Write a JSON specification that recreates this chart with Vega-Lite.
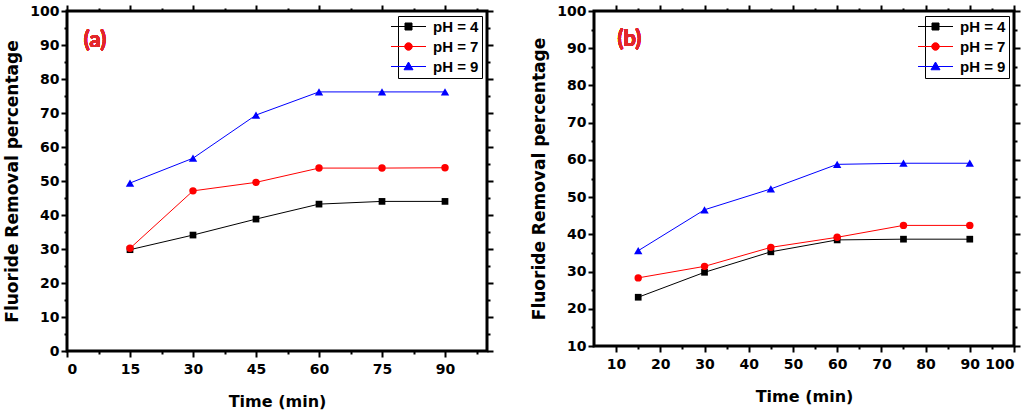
{
  "$schema": "https://vega.github.io/schema/vega-lite/v6.json",
  "background": "white",
  "padding": {"left": 2, "top": 2, "right": 4, "bottom": 2},
  "spacing": 33,
  "resolve": {"scale": {"color": "independent", "stroke": "independent", "shape": "independent"}, "legend": {"color": "independent", "stroke": "independent", "shape": "independent"}},
  "config": {
    "view": {"stroke": "black", "strokeWidth": 3},
    "axis": {"grid": false, "domain": false, "tickColor": "black", "tickWidth": 2, "labelColor": "black", "labelFont": "DejaVu Sans", "labelFontWeight": "bold", "labelFontSize": 14, "labelPadding": 2, "titleFont": "DejaVu Sans", "titleFontWeight": "bold", "titleFontSize": 16, "titleColor": "black"},
    "legend": {"orient": "top-right", "offset": 5, "strokeColor": "black", "strokeWidth": 1, "fillColor": "white", "padding": 3, "labelFont": "Liberation Sans", "labelFontSize": 15, "labelFontWeight": "bold", "labelColor": "black", "symbolSize": 100, "symbolStrokeWidth": 1, "rowPadding": 4, "labelOffset": 17}
  },
  "datasets": {
    "a": [
      {"time": 15, "pH": "pH = 4", "removal": 29.8},
      {"time": 30, "pH": "pH = 4", "removal": 34.1},
      {"time": 45, "pH": "pH = 4", "removal": 38.8},
      {"time": 60, "pH": "pH = 4", "removal": 43.2},
      {"time": 75, "pH": "pH = 4", "removal": 44.0},
      {"time": 90, "pH": "pH = 4", "removal": 44.0},
      {"time": 15, "pH": "pH = 7", "removal": 30.2},
      {"time": 30, "pH": "pH = 7", "removal": 47.1},
      {"time": 45, "pH": "pH = 7", "removal": 49.6},
      {"time": 60, "pH": "pH = 7", "removal": 53.8},
      {"time": 75, "pH": "pH = 7", "removal": 53.8},
      {"time": 90, "pH": "pH = 7", "removal": 53.9},
      {"time": 15, "pH": "pH = 9", "removal": 49.4},
      {"time": 30, "pH": "pH = 9", "removal": 56.7},
      {"time": 45, "pH": "pH = 9", "removal": 69.4},
      {"time": 60, "pH": "pH = 9", "removal": 76.2},
      {"time": 75, "pH": "pH = 9", "removal": 76.2},
      {"time": 90, "pH": "pH = 9", "removal": 76.2}
    ],
    "b": [
      {"time": 15, "pH": "pH = 4", "removal": 23.1},
      {"time": 30, "pH": "pH = 4", "removal": 29.8},
      {"time": 45, "pH": "pH = 4", "removal": 35.3},
      {"time": 60, "pH": "pH = 4", "removal": 38.5},
      {"time": 75, "pH": "pH = 4", "removal": 38.7},
      {"time": 90, "pH": "pH = 4", "removal": 38.7},
      {"time": 15, "pH": "pH = 7", "removal": 28.3},
      {"time": 30, "pH": "pH = 7", "removal": 31.4},
      {"time": 45, "pH": "pH = 7", "removal": 36.5},
      {"time": 60, "pH": "pH = 7", "removal": 39.2},
      {"time": 75, "pH": "pH = 7", "removal": 42.4},
      {"time": 90, "pH": "pH = 7", "removal": 42.4},
      {"time": 15, "pH": "pH = 9", "removal": 35.6},
      {"time": 30, "pH": "pH = 9", "removal": 46.6},
      {"time": 45, "pH": "pH = 9", "removal": 52.2},
      {"time": 60, "pH": "pH = 9", "removal": 58.8},
      {"time": 75, "pH": "pH = 9", "removal": 59.1},
      {"time": 90, "pH": "pH = 9", "removal": 59.1}
    ]
  },
  "hconcat": [
    {
      "width": 420, "height": 340,
      "data": {"name": "a"},
      "layer": [
        {
          "transform": [{"filter": "false"}],
          "mark": {"type": "point", "filled": true, "opacity": 1},
          "encoding": {
            "x": {"field": "time", "type": "quantitative", "scale": {"domain": [0, 100], "nice": false, "zero": false},
              "axis": {"orient": "top", "values": [0, 7.5, 15, 22.5, 30, 37.5, 45, 52.5, 60, 67.5, 75, 82.5, 90, 97.5], "labels": false, "tickSize": {"condition": {"test": "datum.value % 15 === 0", "value": 6}, "value": 3}, "title": null}},
            "y": {"field": "removal", "type": "quantitative", "scale": {"domain": [0, 100], "nice": false, "zero": false},
              "axis": {"orient": "right", "values": [0, 5, 10, 15, 20, 25, 30, 35, 40, 45, 50, 55, 60, 65, 70, 75, 80, 85, 90, 95, 100], "labels": false, "tickSize": {"condition": {"test": "datum.value % 10 === 0", "value": 6}, "value": 3}, "title": null}},
            "color": {"field": "pH", "type": "nominal", "scale": {"domain": ["pH = 4", "pH = 7", "pH = 9"], "range": ["#000000", "#ff0000", "#0000ff"]}, "legend": {"title": null}},
            "stroke": {"field": "pH", "type": "nominal", "scale": {"domain": ["pH = 4", "pH = 7", "pH = 9"], "range": ["#000000", "#ff0000", "#0000ff"]}, "legend": {"title": null}},
            "shape": {"field": "pH", "type": "nominal", "scale": {"domain": ["pH = 4", "pH = 7", "pH = 9"], "range": ["M-3.5,0H3.5M-0.7,-0.7H0.7V0.7H-0.7Z", "M-3.5,0H3.5M0.75,0A0.75,0.75,0,1,1,-0.75,0A0.75,0.75,0,1,1,0.75,0Z", "M-3.5,0H3.5M0,-0.9L0.9,0.65H-0.9Z"]}, "legend": {"title": null}}
          }
        },
        {
          "mark": {"type": "line", "strokeWidth": 1},
          "encoding": {
            "x": {"field": "time", "type": "quantitative",
              "axis": {"orient": "bottom", "values": [0, 7.5, 15, 22.5, 30, 37.5, 45, 52.5, 60, 67.5, 75, 82.5, 90, 97.5], "format": "d", "labelExpr": "datum.value % 15 === 0 ? datum.label : ''", "tickSize": {"condition": {"test": "datum.value % 15 === 0", "value": 6}, "value": 3}, "labelPadding": 5, "title": "Time (min)", "titlePadding": 17}},
            "y": {"field": "removal", "type": "quantitative",
              "axis": {"orient": "left", "values": [0, 5, 10, 15, 20, 25, 30, 35, 40, 45, 50, 55, 60, 65, 70, 75, 80, 85, 90, 95, 100], "labelExpr": "datum.value % 10 === 0 ? datum.label : ''", "tickSize": {"condition": {"test": "datum.value % 10 === 0", "value": 6}, "value": 3}, "title": "Fluoride Removal percentage", "titleFontSize": 17, "titlePadding": 8}},
            "color": {"field": "pH", "type": "nominal"}
          }
        },
        {
          "transform": [{"filter": "datum.pH === 'pH = 4'"}],
          "mark": {"type": "point", "shape": "square", "filled": true, "size": 45, "opacity": 1},
          "encoding": {
            "x": {"field": "time", "type": "quantitative", "axis": null},
            "y": {"field": "removal", "type": "quantitative", "axis": null},
            "color": {"field": "pH", "type": "nominal"}
          }
        },
        {
          "transform": [{"filter": "datum.pH === 'pH = 7'"}],
          "mark": {"type": "point", "shape": "circle", "filled": true, "size": 55, "opacity": 1},
          "encoding": {
            "x": {"field": "time", "type": "quantitative", "axis": null},
            "y": {"field": "removal", "type": "quantitative", "axis": null},
            "color": {"field": "pH", "type": "nominal"}
          }
        },
        {
          "transform": [{"filter": "datum.pH === 'pH = 9'"}],
          "mark": {"type": "point", "shape": "triangle-up", "filled": true, "size": 70, "opacity": 1},
          "encoding": {
            "x": {"field": "time", "type": "quantitative", "axis": null},
            "y": {"field": "removal", "type": "quantitative", "axis": null},
            "color": {"field": "pH", "type": "nominal"}
          }
        },
        {
          "mark": {"type": "text", "text": "(a)", "font": "Lato", "fontWeight": "bold", "fontSize": 22, "color": "#e3262a", "align": "left", "baseline": "middle"},
          "encoding": {
            "x": {"datum": 4, "type": "quantitative", "axis": null},
            "y": {"datum": 91.5, "type": "quantitative", "axis": null}
          }
        }
      ],
      "resolve": {"axis": {"x": "independent", "y": "independent"}}
    },
    {
      "width": 420, "height": 335,
      "data": {"name": "b"},
      "layer": [
        {
          "transform": [{"filter": "false"}],
          "mark": {"type": "point", "filled": true, "opacity": 1},
          "encoding": {
            "x": {"field": "time", "type": "quantitative", "scale": {"domain": [5, 100], "nice": false, "zero": false},
              "axis": {"orient": "top", "values": [10, 15, 20, 25, 30, 35, 40, 45, 50, 55, 60, 65, 70, 75, 80, 85, 90, 95, 100], "labels": false, "tickSize": {"condition": {"test": "datum.value % 10 === 0", "value": 6}, "value": 3}, "title": null}},
            "y": {"field": "removal", "type": "quantitative", "scale": {"domain": [10, 100], "nice": false, "zero": false},
              "axis": {"orient": "right", "values": [10, 15, 20, 25, 30, 35, 40, 45, 50, 55, 60, 65, 70, 75, 80, 85, 90, 95, 100], "labels": false, "tickSize": {"condition": {"test": "datum.value % 10 === 0", "value": 6}, "value": 3}, "title": null}},
            "color": {"field": "pH", "type": "nominal", "scale": {"domain": ["pH = 4", "pH = 7", "pH = 9"], "range": ["#000000", "#ff0000", "#0000ff"]}, "legend": {"title": null}},
            "stroke": {"field": "pH", "type": "nominal", "scale": {"domain": ["pH = 4", "pH = 7", "pH = 9"], "range": ["#000000", "#ff0000", "#0000ff"]}, "legend": {"title": null}},
            "shape": {"field": "pH", "type": "nominal", "scale": {"domain": ["pH = 4", "pH = 7", "pH = 9"], "range": ["M-3.5,0H3.5M-0.7,-0.7H0.7V0.7H-0.7Z", "M-3.5,0H3.5M0.75,0A0.75,0.75,0,1,1,-0.75,0A0.75,0.75,0,1,1,0.75,0Z", "M-3.5,0H3.5M0,-0.9L0.9,0.65H-0.9Z"]}, "legend": {"title": null}}
          }
        },
        {
          "mark": {"type": "line", "strokeWidth": 1},
          "encoding": {
            "x": {"field": "time", "type": "quantitative",
              "axis": {"orient": "bottom", "values": [10, 15, 20, 25, 30, 35, 40, 45, 50, 55, 60, 65, 70, 75, 80, 85, 90, 95, 100], "labelExpr": "datum.value % 10 === 0 ? datum.label : ''", "tickSize": {"condition": {"test": "datum.value % 10 === 0", "value": 6}, "value": 3}, "labelPadding": 5, "title": "Time (min)", "titlePadding": 17}},
            "y": {"field": "removal", "type": "quantitative",
              "axis": {"orient": "left", "values": [10, 15, 20, 25, 30, 35, 40, 45, 50, 55, 60, 65, 70, 75, 80, 85, 90, 95, 100], "labelExpr": "datum.value % 10 === 0 ? datum.label : ''", "tickSize": {"condition": {"test": "datum.value % 10 === 0", "value": 6}, "value": 3}, "title": "Fluoride Removal percentage", "titleFontSize": 17, "titlePadding": 8}},
            "color": {"field": "pH", "type": "nominal"}
          }
        },
        {
          "transform": [{"filter": "datum.pH === 'pH = 4'"}],
          "mark": {"type": "point", "shape": "square", "filled": true, "size": 45, "opacity": 1},
          "encoding": {
            "x": {"field": "time", "type": "quantitative", "axis": null},
            "y": {"field": "removal", "type": "quantitative", "axis": null},
            "color": {"field": "pH", "type": "nominal"}
          }
        },
        {
          "transform": [{"filter": "datum.pH === 'pH = 7'"}],
          "mark": {"type": "point", "shape": "circle", "filled": true, "size": 55, "opacity": 1},
          "encoding": {
            "x": {"field": "time", "type": "quantitative", "axis": null},
            "y": {"field": "removal", "type": "quantitative", "axis": null},
            "color": {"field": "pH", "type": "nominal"}
          }
        },
        {
          "transform": [{"filter": "datum.pH === 'pH = 9'"}],
          "mark": {"type": "point", "shape": "triangle-up", "filled": true, "size": 70, "opacity": 1},
          "encoding": {
            "x": {"field": "time", "type": "quantitative", "axis": null},
            "y": {"field": "removal", "type": "quantitative", "axis": null},
            "color": {"field": "pH", "type": "nominal"}
          }
        },
        {
          "mark": {"type": "text", "text": "(b)", "font": "Lato", "fontWeight": "bold", "fontSize": 22, "color": "#e3262a", "align": "left", "baseline": "middle"},
          "encoding": {
            "x": {"datum": 10.3, "type": "quantitative", "axis": null},
            "y": {"datum": 92.5, "type": "quantitative", "axis": null}
          }
        }
      ],
      "resolve": {"axis": {"x": "independent", "y": "independent"}}
    }
  ]
}
